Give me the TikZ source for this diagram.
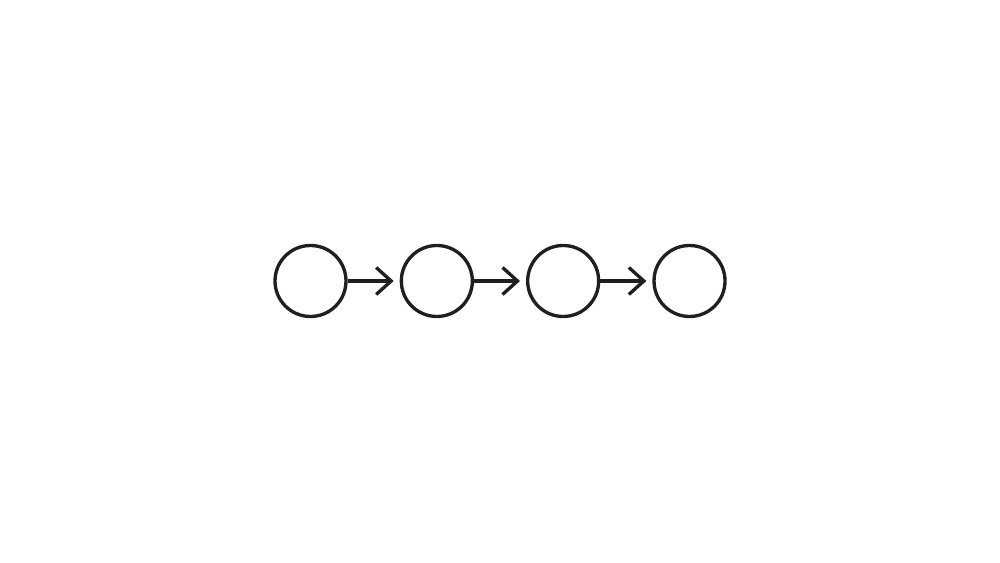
\documentclass[tikz,border=0pt]{standalone}
\usepackage{tikz}
\usetikzlibrary{arrows.meta, positioning}

\begin{document}
\begin{tikzpicture}[
    node distance=1.04cm,
    stage/.style={circle, draw=black!88, line width=1.9pt, minimum size=1.42cm, inner sep=0pt},
    arrow/.style={-{Straight Barb[length=3mm, width=5.4mm, line width=1.9pt]}, line width=1.9pt, draw=black!88, shorten >=1.2mm}
]
\useasboundingbox (0,0) rectangle (20,11.26);

% Stages
\node[stage] (c1) at (6.21,5.64) {};
\node[stage, right=of c1] (c2) {};
\node[stage, right=of c2] (c3) {};
\node[stage, right=of c3] (c4) {};

% Arrows
\draw[arrow] (c1) -- (c2);
\draw[arrow] (c2) -- (c3);
\draw[arrow] (c3) -- (c4);

\end{tikzpicture}
\end{document}
